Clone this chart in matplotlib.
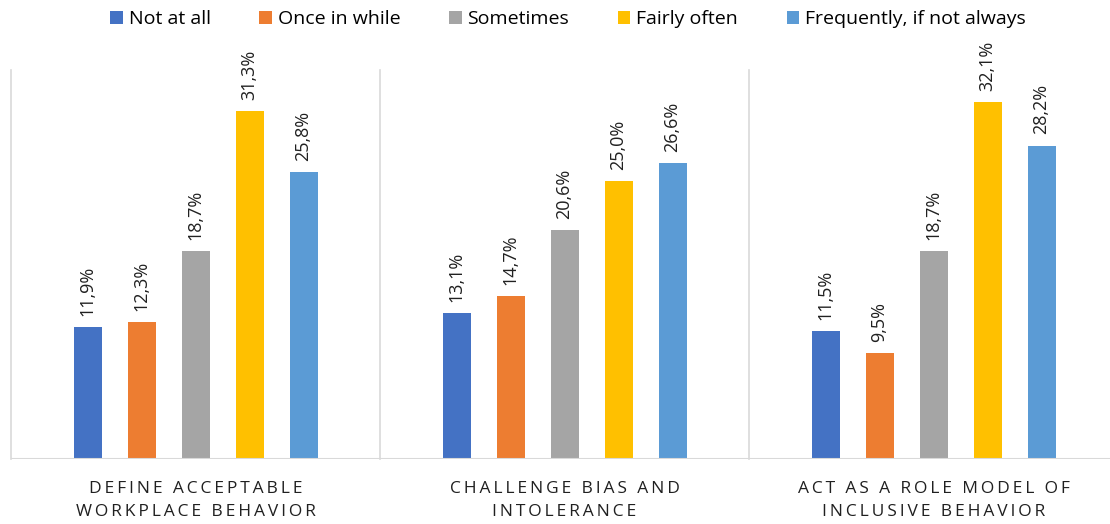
import matplotlib.pyplot as plt
import numpy as np

plt.rcParams['font.family'] = ['Open Sans', 'DejaVu Sans']

categories = ["DEFINE ACCEPTABLE\nWORKPLACE BEHAVIOR",
              "CHALLENGE BIAS AND\nINTOLERANCE",
              "ACT AS A ROLE MODEL OF\nINCLUSIVE BEHAVIOR"]
series = ["Not at all", "Once in while", "Sometimes", "Fairly often",
          "Frequently, if not always"]
not_at_all = [11.9, 13.1, 11.5]
once_in_while = [12.3, 14.7, 9.5]
sometimes = [18.7, 20.6, 18.7]
fairly_often = [31.3, 25.0, 32.1]
frequently = [25.8, 26.6, 28.2]
colors = ["#4472C4", "#ED7D31", "#A5A5A5", "#FFC000", "#5B9BD5"]

values = [not_at_all, once_in_while, sometimes, fairly_often, frequently]


def spaced(txt):
    # wide letter spacing for the category captions
    thin = "\u2009"
    lines = []
    for line in txt.split("\n"):
        words = [thin.join(w) for w in line.split(" ")]
        lines.append((thin + " " + thin).join(words))
    return "\n".join(lines)


fig = plt.figure(figsize=(11.1, 5.24), dpi=100)
ax = fig.add_axes([11 / 1110, 1 - 459 / 524, 1107 / 1110, 389 / 524])

centers = np.arange(len(categories)) + 0.5
step = 54 / 369
width = 28 / 369
for i, (name, vals, col) in enumerate(zip(series, values, colors)):
    xs = centers + (i - 2) * step
    ax.bar(xs, vals, width, color=col, label=name, zorder=3)
    for x, v in zip(xs, vals):
        ax.text(x, v + 1.0, (f"{v:.1f}%").replace(".", ","), rotation=90,
                ha="center", va="bottom", fontsize=13, color="#202020")

ax.set_xlim(0, 3)
ax.set_ylim(0, 35)
for x in range(4):
    ax.axvline(x, color="#D9D9D9", lw=1.2, zorder=1, clip_on=False)
ax.axhline(0, color="#D9D9D9", lw=1.5, zorder=4)
for s in ax.spines.values():
    s.set_visible(False)
ax.set_yticks([])
ax.set_xticks(centers)
ax.set_xticklabels([spaced(c) for c in categories], fontsize=12.5,
                   color="#202020", linespacing=1.6)
ax.tick_params(axis="x", length=0, pad=16)

fig.legend(loc="center", bbox_to_anchor=(568 / 1110, 1 - 19 / 524), ncol=5,
           frameon=False, fontsize=14, handlelength=0.65, handleheight=0.65,
           handletextpad=0.3, columnspacing=2.5)

fig.savefig("out.png")
